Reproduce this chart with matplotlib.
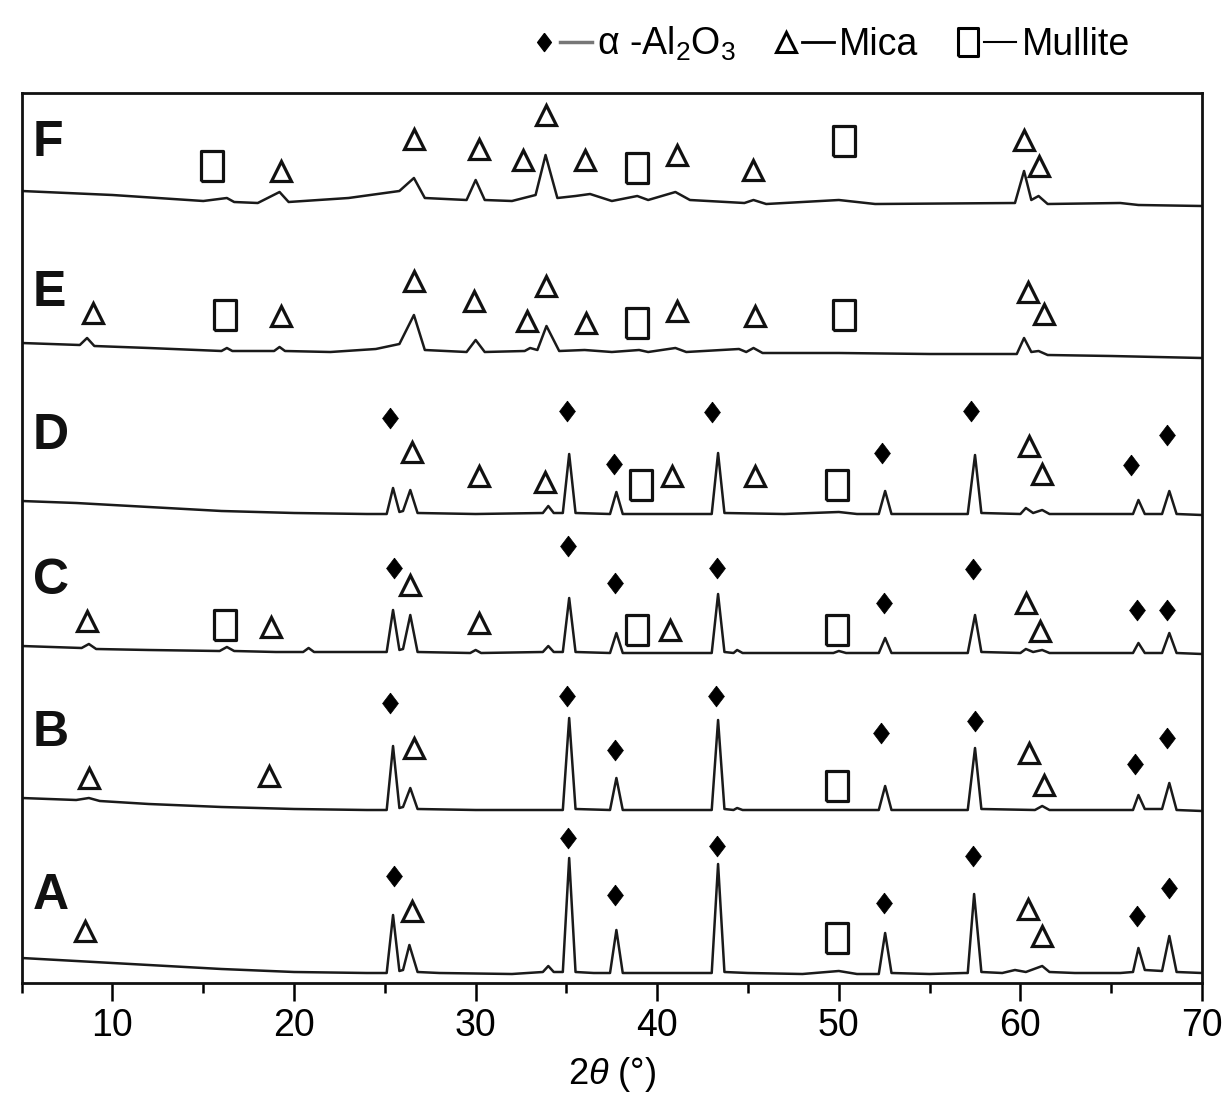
import matplotlib
matplotlib.use('Agg')
import matplotlib.pyplot as plt
from matplotlib.lines import Line2D
from matplotlib.legend_handler import HandlerTuple

plt.rcParams['font.family'] = ['Liberation Sans Narrow', 'Liberation Sans', 'DejaVu Sans']
plt.rcParams['mathtext.fontset'] = 'custom'
plt.rcParams['mathtext.rm'] = 'Liberation Sans'
plt.rcParams['mathtext.it'] = 'Liberation Sans:italic'

# ---------------- data (2theta in degrees, intensity in arbitrary units) -------------
SAMPLES = ['A', 'B', 'C', 'D', 'E', 'F']

A_PATTERN = [(5, 20), (7, 18), (10, 15), (13, 12), (16, 9), (20, 6), (24, 5),
             (25.1, 5), (25.45, 63), (25.8, 7), (26.0, 8), (26.35, 33), (26.8, 6),
             (28, 5), (32, 4), (33.7, 6), (34.0, 12), (34.3, 6),
             (34.8, 6), (35.15, 120), (35.5, 6), (36.5, 5),
             (37.4, 5), (37.75, 48), (38.1, 5), (40, 5), (42, 5),
             (43.0, 5), (43.35, 114), (43.7, 6), (45, 5), (48, 4), (50, 7), (51, 4),
             (52.2, 4), (52.55, 45), (52.9, 5), (55, 4), (56.9, 5),
             (57.1, 5), (57.45, 84), (57.85, 6), (59, 5), (59.7, 8), (60.3, 6),
             (61.2, 12), (61.6, 6), (63, 5), (65.5, 5),
             (66.2, 6), (66.5, 30), (66.85, 8), (67.8, 7), (68.2, 42), (68.6, 6), (70, 5)]

B_PATTERN = [(5, 17), (8, 15), (8.7, 17), (9.3, 14), (12, 11), (16, 8), (20, 6), (24, 5),
             (25.1, 5), (25.45, 69), (25.8, 7), (26.0, 8), (26.4, 27), (26.8, 6),
             (30, 5), (34.8, 5), (35.15, 97), (35.5, 6),
             (37.4, 5), (37.75, 37), (38.1, 5), (41, 5),
             (43.0, 5), (43.35, 95), (43.7, 6), (44.2, 5), (44.4, 7), (44.7, 5), (48, 5),
             (52.2, 5), (52.55, 29), (52.9, 5), (56.9, 5),
             (57.1, 5), (57.5, 67), (57.85, 6), (60.8, 5), (61.2, 9), (61.6, 5), (65.8, 5),
             (66.2, 5), (66.5, 20), (66.85, 6), (67.8, 6), (68.2, 32), (68.6, 5), (70, 4)]

C_PATTERN = [(5, 12), (8.3, 10), (8.7, 14), (9.1, 9), (12, 8), (15.9, 7), (16.3, 11), (16.7, 7),
             (19, 6), (20.5, 6), (20.8, 10), (21.1, 6), (24, 6),
             (25.1, 6), (25.45, 48), (25.8, 8), (26.0, 9), (26.4, 43), (26.8, 6),
             (29.7, 5), (30.0, 8), (30.3, 5), (33.7, 6), (34.0, 12), (34.3, 6),
             (34.8, 6), (35.15, 60), (35.5, 6), (37.4, 5), (37.75, 25), (38.1, 5),
             (43.0, 5), (43.35, 64), (43.7, 6), (44.2, 5), (44.4, 8), (44.7, 5),
             (49.7, 5), (50.0, 7), (50.4, 5),
             (52.2, 5), (52.55, 20), (52.9, 5), (57.1, 5), (57.5, 43), (57.85, 6),
             (60.0, 5), (60.3, 9), (60.7, 6), (61.2, 8), (61.6, 5),
             (66.2, 5), (66.5, 15), (66.85, 5), (67.8, 5), (68.2, 25), (68.6, 5), (70, 4)]

D_PATTERN = [(5, 17), (8, 15), (12, 11), (16, 7), (20, 5), (24, 4),
             (25.1, 4), (25.45, 30), (25.8, 6), (26.0, 7), (26.4, 28), (26.8, 5),
             (30, 4), (33.7, 5), (34.0, 12), (34.3, 5),
             (34.8, 5), (35.15, 64), (35.5, 5), (37.4, 4), (37.75, 26), (38.1, 4),
             (43.0, 4), (43.35, 65), (43.7, 5), (47, 4), (50.0, 6), (51, 4),
             (52.2, 4), (52.55, 27), (52.9, 4), (57.1, 4), (57.5, 63), (57.85, 5),
             (60.0, 4), (60.3, 10), (60.7, 5), (61.2, 8), (61.6, 4),
             (66.2, 4), (66.5, 18), (66.85, 4), (67.8, 4), (68.2, 27), (68.6, 4), (70, 3)]

E_PATTERN = [(5, 17), (8.2, 15), (8.6, 22), (9.0, 14), (12, 12), (16.0, 9), (16.3, 12), (16.6, 9),
             (18.9, 9), (19.2, 13), (19.5, 9), (22, 8), (24.5, 11), (25.8, 16),
             (26.6, 45), (27.2, 10), (29.5, 8), (30.0, 20), (30.5, 8),
             (32.7, 9), (33.0, 12), (33.4, 10), (33.9, 34), (34.6, 9), (36.0, 10), (37.5, 8),
             (39.0, 10), (39.5, 8), (41.0, 12), (41.6, 8), (44.5, 11), (44.9, 8), (45.3, 12),
             (45.8, 7), (50, 7), (55, 6), (59.8, 6), (60.2, 22), (60.6, 8), (61.0, 9),
             (61.5, 5), (65, 4), (70, 2)]

F_PATTERN = [(5, 19), (10, 15), (15, 9), (16.3, 12), (16.7, 8), (18, 7), (19.2, 18), (19.7, 8),
             (23, 12), (25.8, 19), (26.6, 32), (27.2, 12), (29.5, 10), (30.0, 30), (30.5, 10),
             (32, 9), (33.3, 15), (33.85, 55), (34.5, 12), (35.5, 14), (36.3, 16), (37.5, 9),
             (38.9, 14), (39.5, 10), (41.0, 18), (41.8, 10), (44.8, 7), (45.3, 10), (46, 6),
             (50, 10), (52, 6), (59.7, 7), (60.2, 39), (60.6, 10), (61.0, 14), (61.5, 6),
             (65.5, 7), (66.5, 5), (70, 4)]

# phase markers: (2theta, height above trace zero)
A_AL2O3 = [(25.5, 102), (35.1, 140), (37.7, 83), (43.3, 132), (52.5, 75), (57.4, 122), (66.4, 62), (68.2, 90)]
A_MICA = [(8.5, 47), (26.5, 67), (60.4, 69), (61.2, 42)]
A_MULLITE = [(49.9, 40)]

B_AL2O3 = [(25.3, 112), (35.05, 119), (37.7, 65), (43.25, 119), (52.3, 82), (57.5, 94), (66.3, 51), (68.1, 77)]
B_MICA = [(8.7, 37), (18.6, 39), (26.6, 67), (60.5, 62), (61.3, 30)]
B_MULLITE = [(49.9, 29)]

C_AL2O3 = [(25.5, 90), (35.1, 112), (37.7, 75), (43.3, 90), (52.5, 55), (57.4, 89), (66.4, 48), (68.1, 48)]
C_MICA = [(8.6, 37), (18.75, 31), (26.4, 73), (30.2, 35), (40.7, 28), (60.3, 55), (61.1, 27)]
C_MULLITE = [(16.2, 33), (38.9, 28), (49.9, 28)]

D_AL2O3 = [(25.3, 100), (35.05, 107), (37.6, 54), (43.0, 106), (52.35, 65), (57.3, 107), (66.1, 53), (68.1, 83)]
D_MICA = [(26.5, 66), (30.2, 42), (33.8, 36), (40.8, 42), (45.4, 42), (60.5, 72), (61.2, 44)]
D_MULLITE = [(39.1, 33), (49.9, 33)]

E_AL2O3 = []
E_MICA = [(8.9, 47), (19.3, 44), (26.6, 79), (29.9, 59), (32.8, 39), (33.9, 74), (36.1, 37),
          (41.1, 49), (45.4, 44), (60.4, 68), (61.3, 46)]
E_MULLITE = [(16.2, 45), (38.9, 37), (50.3, 45)]

F_AL2O3 = []
F_MICA = [(19.3, 39), (26.6, 71), (30.2, 61), (32.6, 50), (33.85, 95), (36.0, 50),
          (41.1, 55), (45.3, 40), (60.2, 70), (61.0, 44)]
F_MULLITE = [(15.5, 44), (38.9, 42), (50.3, 69)]

X_TICKS = [10, 20, 30, 40, 50, 60, 70]
LEGEND_LABELS = ['α -Al$_2$O$_3$', 'Mica', 'Mullite']
X_LABEL = r'$2\theta$ (°)'

# ---------------- layout / style ----------------
patterns = dict(zip(SAMPLES, [A_PATTERN, B_PATTERN, C_PATTERN, D_PATTERN, E_PATTERN, F_PATTERN]))
al2o3 = dict(zip(SAMPLES, [A_AL2O3, B_AL2O3, C_AL2O3, D_AL2O3, E_AL2O3, F_AL2O3]))
mica = dict(zip(SAMPLES, [A_MICA, B_MICA, C_MICA, D_MICA, E_MICA, F_MICA]))
mullite = dict(zip(SAMPLES, [A_MULLITE, B_MULLITE, C_MULLITE, D_MULLITE, E_MULLITE, F_MULLITE]))

offsets = dict(zip(SAMPLES, [5, 168, 325, 465, 623, 773]))
label_rel = dict(zip(SAMPLES, [82, 82, 77, 82, 67, 67]))

diamond = [(0, 0.5), (0.38, 0), (0, -0.5), (-0.38, 0), (0, 0.5)]
rect = [(-0.37, -0.5), (0.37, -0.5), (0.37, 0.5), (-0.37, 0.5), (-0.37, -0.5)]
trace_color = '#1a1a1a'
al_style = dict(marker=diamond, ms=15, mfc='black', mec='black', mew=0.5, ls='none')
mica_style = dict(marker='^', ms=15, mfc='none', mec='#111111', mew=2.3, ls='none')
mul_style = dict(marker=rect, ms=21, mfc='none', mec='#111111', mew=2.3, ls='none')

fig = plt.figure(figsize=(12.25, 10.98), dpi=100)
ax = fig.add_axes([21.7 / 1225, 115 / 1098, (1202 - 21.7) / 1225, (983 - 93) / 1098])

for s in SAMPLES:
    off = offsets[s]
    xs = [p[0] for p in patterns[s]]
    ys = [p[1] + off for p in patterns[s]]
    ax.plot(xs, ys, color=trace_color, lw=1.8, solid_joinstyle='round')
    for pts, st in ((al2o3[s], al_style), (mica[s], mica_style), (mullite[s], mul_style)):
        if pts:
            ax.plot([p[0] for p in pts], [p[1] + off for p in pts], **st)
    ax.text(5.6, off + label_rel[s], s, fontsize=36, fontweight='bold',
            family=['Liberation Sans', 'DejaVu Sans'], ha='left', va='center', color='#111111')

ax.set_xlim(5, 70)
ax.set_ylim(0, 890)
ax.set_xticks(X_TICKS)
ax.set_xticks(list(range(5, 70, 10)), minor=True)
ax.set_xticklabels([str(t) for t in X_TICKS], fontsize=27)
ax.set_yticks([])
ax.tick_params(axis='x', which='major', direction='out', length=13, width=1.8, pad=5)
ax.tick_params(axis='x', which='minor', direction='out', length=7, width=1.8)
for sp in ax.spines.values():
    sp.set_linewidth(2.0)
    sp.set_color('#111111')
ax.set_xlabel(X_LABEL, fontsize=26, labelpad=8)

h_al = (Line2D([], [], marker=diamond, ms=13, mfc='black', mec='black', ls='none'),
        Line2D([], [], color='#777777', lw=2.5))
h_mi = (Line2D([], [], marker='^', ms=14, mfc='none', mec='black', mew=2.2, ls='none'),
        Line2D([], [], color='black', lw=2))
h_mu = (Line2D([], [], marker=rect, ms=20, mfc='none', mec='black', mew=2.2, ls='none'),
        Line2D([], [], color='black', lw=1.5))
fig.legend([h_al, h_mi, h_mu], LEGEND_LABELS, handler_map={tuple: HandlerTuple(ndivide=None, pad=0)},
           loc='upper right', bbox_to_anchor=(1145 / 1225, 1 - 10 / 1098), ncol=3, frameon=False,
           fontsize=27, handlelength=1.7, handletextpad=0.15, columnspacing=0.9, borderaxespad=0)

fig.savefig('out.png', dpi=100)
